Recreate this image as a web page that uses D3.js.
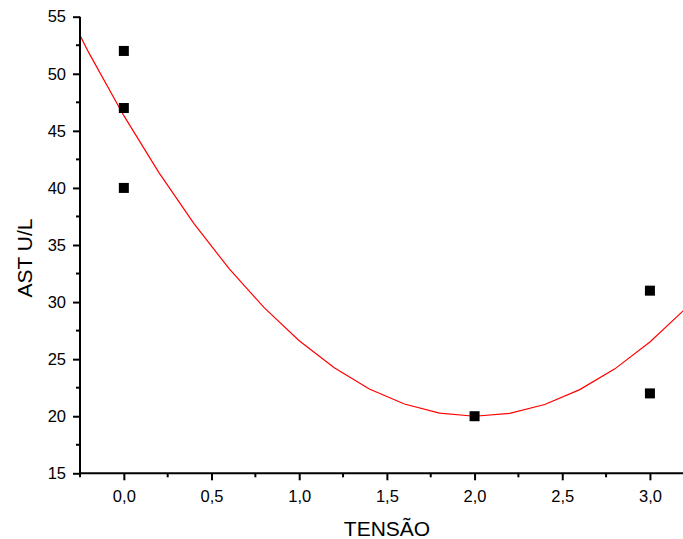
<!DOCTYPE html>
<html><head><meta charset="utf-8">
<script src="https://cdn.jsdelivr.net/npm/d3@7"></script>
<style>body{margin:0;background:#fff}svg{display:block}</style>
</head><body>
<script>
const pointX = [0, 0, 0, 2, 3, 3];
const pointY = [52, 47, 40, 20, 31, 22];
const fitX = [-0.4,-0.2,0,0.2,0.4,0.6,0.8,1.0,1.2,1.4,1.6,1.8,2.0,2.2,2.4,2.6,2.8,3.0,3.2,3.4];
const fitY = [57.89,51.85,46.33,41.34,36.87,32.93,29.51,26.61,24.24,22.39,21.07,20.27,20.00,20.25,21.03,22.33,24.15,26.50,29.38,32.78];
const xTicks = [0,0.5,1.0,1.5,2.0,2.5,3.0];
const xMinor = [-0.25,0.25,0.75,1.25,1.75,2.25,2.75];
const yTicks = [15,20,25,30,35,40,45,50,55];
const yMinor = [17.5,22.5,27.5,32.5,37.5,42.5,47.5,52.5];
const xTitle = "TENSÃO", yTitle = "AST U/L";

const W = 683, H = 539;
const svg = d3.select("body").append("svg").attr("width", W).attr("height", H)
  .style("font-family", "'Liberation Sans', Arial, sans-serif");
const x = d3.scaleLinear().domain([-0.25, 3.2]).range([80, 685]);
const y = d3.scaleLinear().domain([15, 55]).range([473.3, 16.7]);
const fmt = d => d3.format(".1f")(d).replace(".", ",");

svg.append("defs").append("clipPath").attr("id","clip")
  .append("rect").attr("x",80).attr("y",0).attr("width",W-80).attr("height",473.3);

// fit curve
svg.append("path")
  .datum(fitX.map((v,i)=>[v,fitY[i]]))
  .attr("clip-path","url(#clip)")
  .attr("fill","none").attr("stroke","#ff0000").attr("stroke-width",1.2)
  .attr("d", d3.line().x(d=>x(d[0])).y(d=>y(d[1])));

// points
svg.append("g").selectAll("rect").data(pointX.map((v,i)=>[v,pointY[i]])).join("rect")
  .attr("x", d=>x(d[0])-5).attr("y", d=>y(d[1])-5)
  .attr("width",10).attr("height",10).attr("fill","#000");

// x axis
const xa = svg.append("g").attr("transform",`translate(0,${y(15)})`)
  .call(d3.axisBottom(x).tickValues(xTicks).tickFormat(fmt).tickSize(7).tickPadding(10));
xa.select(".domain").attr("d", `M${x(-0.25)},0H${W}`).attr("stroke-width",2);
xa.selectAll(".tick line").attr("stroke-width",2);
xa.selectAll("text").style("font-size","16.5px").attr("fill","#000");
xa.append("g").selectAll("line").data(xMinor).join("line")
  .attr("x1",d=>x(d)).attr("x2",d=>x(d)).attr("y1",0).attr("y2",4)
  .attr("stroke","#000").attr("stroke-width",2);

// y axis
const ya = svg.append("g").attr("transform",`translate(${x(-0.25)},0)`)
  .call(d3.axisLeft(y).tickValues(yTicks).tickFormat(d3.format("d")).tickSize(7).tickPadding(7));
ya.select(".domain").attr("d", `M0,${y(55)}V${y(15)}`).attr("stroke-width",2);
ya.selectAll(".tick line").attr("stroke-width",2);
ya.selectAll("text").style("font-size","16.5px").attr("fill","#000");
ya.append("g").selectAll("line").data(yMinor).join("line")
  .attr("y1",d=>y(d)).attr("y2",d=>y(d)).attr("x1",0).attr("x2",-4)
  .attr("stroke","#000").attr("stroke-width",2);

svg.append("text").attr("x",387).attr("y",536).attr("text-anchor","middle")
  .style("font-size","21px").text(xTitle);
svg.append("text").attr("transform","translate(32,258) rotate(-90)").attr("text-anchor","middle")
  .style("font-size","21px").text(yTitle);
</script>
</body></html>
